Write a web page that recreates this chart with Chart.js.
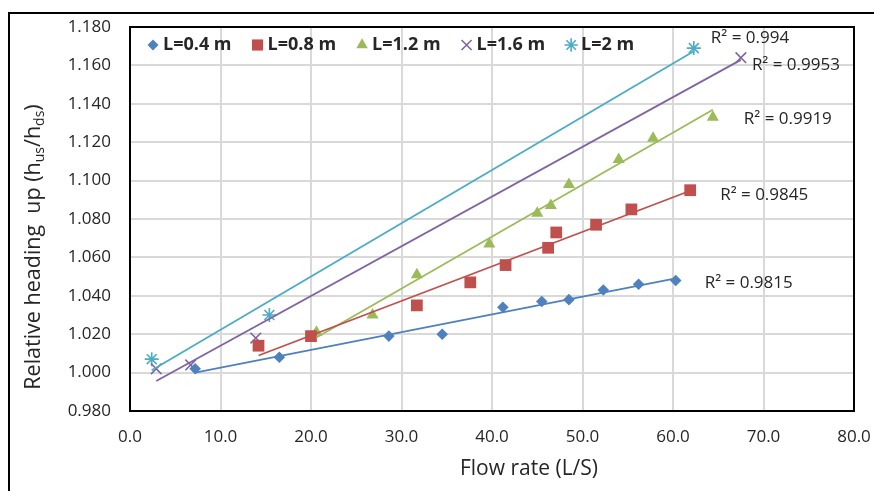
<!DOCTYPE html>
<html>
<head>
<meta charset="utf-8">
<script src="https://cdn.jsdelivr.net/npm/chart.js@4.4.1/dist/chart.umd.min.js"></script>
<style>
  html, body { margin: 0; padding: 0; background: #fff; }
  #wrap { width: 874px; height: 491px; position: relative; }
</style>
</head>
<body>
<div id="wrap"><canvas id="c" width="874" height="491"></canvas></div>
<script>
// ---- data ----
const seriesNames = ['L=0.4 m', 'L=0.8 m', 'L=1.2 m', 'L=1.6 m', 'L=2 m'];

const flowL04 = [7.2, 16.5, 28.6, 34.5, 41.2, 45.5, 48.5, 52.3, 56.2, 60.3];
const headL04 = [1.002, 1.008, 1.019, 1.020, 1.034, 1.037, 1.038, 1.043, 1.046, 1.048];

const flowL08 = [14.2, 20.0, 31.7, 37.6, 41.5, 46.2, 47.1, 51.5, 55.4, 61.9];
const headL08 = [1.014, 1.019, 1.035, 1.047, 1.056, 1.065, 1.073, 1.077, 1.085, 1.095];

const flowL12 = [20.6, 26.8, 31.7, 39.7, 45.0, 46.5, 48.5, 54.0, 57.8, 64.4];
const headL12 = [1.021, 1.030, 1.051, 1.067, 1.083, 1.087, 1.098, 1.111, 1.122, 1.133];

const flowL16 = [2.9, 6.7, 13.9, 67.5];
const headL16 = [1.002, 1.004, 1.018, 1.164];

const flowL20 = [2.4, 15.4, 62.3];
const headL20 = [1.007, 1.030, 1.169];

const r2Labels = ['0.9815', '0.9845', '0.9919', '0.9953', '0.994'];

const xTicks = [0, 10, 20, 30, 40, 50, 60, 70, 80];
const yTicks = [0.98, 1.00, 1.02, 1.04, 1.06, 1.08, 1.10, 1.12, 1.14, 1.16, 1.18];

// ---- styling ----
const colors = ['#4F81BD', '#C0504D', '#9BBB59', '#8064A2', '#4BACC6'];
const markers = [
  { pointStyle: 'rectRot', radius: 5.8, borderWidth: 0 },
  { pointStyle: 'rect', radius: 8.3, borderWidth: 0 },
  { pointStyle: 'triangle', radius: 7, borderWidth: 0 },
  { pointStyle: 'crossRot', radius: 7.5, borderWidth: 1.6 },
  { pointStyle: 'star', radius: 7, borderWidth: 1.6 }
];
// pixel offsets of the R² texts relative to each series' last point
const r2Offsets = [[29, 3], [30, 5], [31, 2], [11, 7], [17, -10]];

const flows = [flowL04, flowL08, flowL12, flowL16, flowL20];
const heads = [headL04, headL08, headL12, headL16, headL20];

function linFit(xs, ys) {
  const n = xs.length;
  const mx = xs.reduce((a, b) => a + b, 0) / n;
  const my = ys.reduce((a, b) => a + b, 0) / n;
  let sxy = 0, sxx = 0;
  for (let i = 0; i < n; i++) { sxy += (xs[i] - mx) * (ys[i] - my); sxx += (xs[i] - mx) ** 2; }
  const b = sxy / sxx;
  return { a: my - b * mx, b };
}

const datasets = [];
flows.forEach((xs, i) => {
  datasets.push({
    label: seriesNames[i],
    data: xs.map((x, j) => ({ x, y: heads[i][j] })),
    backgroundColor: colors[i],
    borderColor: colors[i],
    pointStyle: markers[i].pointStyle,
    pointRadius: markers[i].radius,
    pointBorderWidth: markers[i].borderWidth,
    showLine: false,
    order: 2
  });
});
flows.forEach((xs, i) => {
  const f = linFit(xs, heads[i]);
  const x0 = Math.min(...xs), x1 = Math.max(...xs);
  datasets.push({
    label: 'trend' + i,
    type: 'line',
    data: [{ x: x0, y: f.a + f.b * x0 }, { x: x1, y: f.a + f.b * x1 }],
    borderColor: colors[i],
    borderWidth: 1.8,
    pointRadius: 0,
    fill: false,
    tension: 0,
    order: 1
  });
});

const FONT = '"Open Sans", "Noto Sans", sans-serif';
const textColor = '#262626';

const decorPlugin = {
  id: 'decor',
  beforeDraw(chart) {
    const ctx = chart.ctx;
    ctx.save();
    ctx.fillStyle = '#fff';
    ctx.fillRect(0, 0, chart.width, chart.height);
    ctx.strokeStyle = '#000';
    ctx.lineWidth = 2;
    ctx.beginPath();
    ctx.moveTo(9, chart.height);
    ctx.lineTo(9, 13);
    ctx.lineTo(chart.width, 13);
    ctx.stroke();
    ctx.restore();
  },
  afterDraw(chart) {
    const ctx = chart.ctx;
    const ca = chart.chartArea;
    const xs = chart.scales.x, ys = chart.scales.y;
    ctx.save();
    // plot-area border
    ctx.strokeStyle = '#000';
    ctx.lineWidth = 2;
    ctx.strokeRect(ca.left, ca.top, ca.right - ca.left, ca.bottom - ca.top);

    // legend inside the plot
    ctx.font = 'bold 18px ' + FONT;
    ctx.textBaseline = 'middle';
    ctx.textAlign = 'left';
    let cx = ca.left + 23;
    const ly = ca.top + 18;
    seriesNames.forEach((name, i) => {
      ctx.fillStyle = colors[i];
      ctx.strokeStyle = colors[i];
      ctx.lineWidth = markers[i].borderWidth || 1;
      Chart.helpers.drawPoint(ctx, { pointStyle: markers[i].pointStyle, radius: markers[i].radius * 0.95, rotation: 0, borderWidth: markers[i].borderWidth }, cx, ly);
      ctx.fillStyle = textColor;
      ctx.fillText(name, cx + 10, ly);
      cx += 10 + ctx.measureText(name).width + 26;
    });

    // R² labels next to each trend end
    ctx.font = '17px ' + FONT;
    ctx.fillStyle = textColor;
    flows.forEach((fx, i) => {
      let k = 0;
      fx.forEach((v, j) => { if (v > fx[k]) k = j; });
      const px = xs.getPixelForValue(fx[k]) + r2Offsets[i][0];
      const py = ys.getPixelForValue(heads[i][k]) + r2Offsets[i][1];
      ctx.fillText('R\u00B2 = ' + r2Labels[i], px, py);
    });

    // x-axis title
    ctx.font = '21px ' + FONT;
    ctx.textAlign = 'center';
    ctx.fillText('Flow rate (L/S)', (ca.left + ca.right) / 2 + 37, ca.bottom + 58);

    // y-axis title with subscripts
    const parts = [
      { t: 'Relative heading  up (h', sub: false },
      { t: 'us', sub: true },
      { t: '/h', sub: false },
      { t: 'ds', sub: true },
      { t: ')', sub: false }
    ];
    const big = '21.5px ' + FONT, small = '14px ' + FONT;
    let total = 0;
    parts.forEach(p => { ctx.font = p.sub ? small : big; p.w = ctx.measureText(p.t).width; total += p.w; });
    ctx.translate(34, (ca.top + ca.bottom) / 2 + 28);
    ctx.rotate(-Math.PI / 2);
    ctx.textAlign = 'left';
    let tx = -total / 2;
    parts.forEach(p => {
      ctx.font = p.sub ? small : big;
      ctx.fillText(p.t, tx, p.sub ? 6 : 0);
      tx += p.w;
    });
    ctx.restore();
  }
};

new Chart(document.getElementById('c'), {
  type: 'scatter',
  data: { datasets },
  options: {
    responsive: false,
    animation: false,
    events: [],
    layout: { padding: { left: 0, top: 27, right: 20, bottom: 0 } },
    plugins: { legend: { display: false }, tooltip: { enabled: false }, title: { display: false } },
    scales: {
      x: {
        type: 'linear',
        min: xTicks[0], max: xTicks[xTicks.length - 1],
        afterFit: s => { s.height = 80; s.paddingLeft = 0; s.paddingRight = 0; },
        afterBuildTicks: s => { s.ticks = xTicks.map(v => ({ value: v })); },
        ticks: { padding: 16, color: textColor, font: { family: FONT, size: 17 }, callback: v => Number(v).toFixed(1), maxRotation: 0, autoSkip: false },
        grid: { color: '#D9D9D9', lineWidth: 2, drawTicks: false },
        border: { display: false }
      },
      y: {
        type: 'linear',
        min: yTicks[0], max: yTicks[yTicks.length - 1],
        afterFit: s => { s.width = 130; s.paddingTop = 0; s.paddingBottom = 0; },
        afterBuildTicks: s => { s.ticks = yTicks.map(v => ({ value: v })); },
        ticks: { padding: 19, color: textColor, font: { family: FONT, size: 17 }, callback: v => Number(v).toFixed(3), autoSkip: false },
        grid: { color: '#D9D9D9', lineWidth: 2, drawTicks: false },
        border: { display: false }
      }
    }
  },
  plugins: [decorPlugin]
});
</script>
</body>
</html>
